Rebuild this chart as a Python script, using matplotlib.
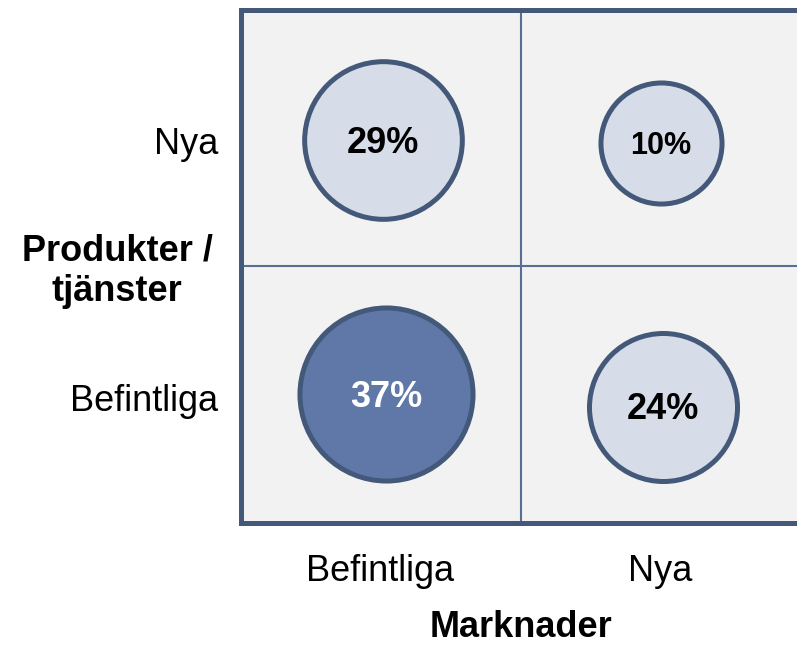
import matplotlib
matplotlib.use("Agg")
import matplotlib.pyplot as plt
from matplotlib.transforms import ScaledTranslation

plt.rcParams['font.family'] = ['Liberation Sans', 'DejaVu Sans']

markets = ["Befintliga", "Nya"]          # x axis
products = ["Befintliga", "Nya"]         # y axis
labels = ["29%", "10%", "37%", "24%"]
shares = [29, 10, 37, 24]
bubble_x = [0.51, 1.50, 0.52, 1.51]      # matrix coordinates
bubble_y = [1.49, 1.48, 0.50, 0.45]
highlight = [False, False, True, False]

FRAME = "#44597a"
LIGHT = "#d7dde8"
DARK = "#5f78a8"
BG = "#f2f2f2"

DPI = 100
fig = plt.figure(figsize=(7.97, 6.45), dpi=DPI)
W, H = 797, 645
ax = fig.add_axes([240.5 / W, (H - 522.5) / H, 560 / W, 513 / H])
ax.set_facecolor(BG)
ax.set_xlim(0, 2)
ax.set_ylim(0, 2)

for side in ["left", "top", "bottom", "right"]:
    ax.spines[side].set_color(FRAME)
    ax.spines[side].set_linewidth(3.6)
ax.axvline(1, color="#5a6e92", lw=1.5)
ax.axhline(1, color="#5a6e92", lw=1.5)

# bubble radius (px, outer edge) grows linearly with the share
edge_pt = 3.6
for x, y, v, lab, hl in zip(bubble_x, bubble_y, shares, labels, highlight):
    r_px = 53.4 + 0.963 * v
    d_pt = 2 * (r_px - 2.5) * 72 / DPI
    ax.scatter([x], [y], s=d_pt ** 2, color=DARK if hl else LIGHT,
               edgecolor=FRAME, linewidth=edge_pt, zorder=3, clip_on=False)
    ax.annotate(lab, (x, y), xytext=(0, -2), textcoords="offset points",
                ha="center", va="center", fontweight="bold",
                fontsize=22 if v < 15 else 26,
                color="white" if hl else "black", zorder=4)

ax.set_xticks([0.5, 1.5])
ax.set_xticklabels(markets, fontsize=26)
ax.set_yticks([0.5, 1.5])
ax.set_yticklabels(products, fontsize=26)
ax.tick_params(axis="both", length=0)
ax.tick_params(axis="x", pad=23)
ax.tick_params(axis="y", pad=16)
shift = ScaledTranslation(0, -2 / 72, fig.dpi_scale_trans)
for t in ax.get_yticklabels():
    t.set_transform(t.get_transform() + shift)

ax.set_xlabel("Marknader", fontsize=26, fontweight="bold")
ax.xaxis.set_label_coords(0.501, -0.2225)
ax.xaxis.label.set_va("baseline")
ax.set_ylabel("Produkter /\ntjänster", fontsize=26, fontweight="bold",
              rotation=0, ha="center", va="center")
ax.yaxis.set_label_coords(-0.2205, 0.49)

fig.savefig("out.png", dpi=DPI)
